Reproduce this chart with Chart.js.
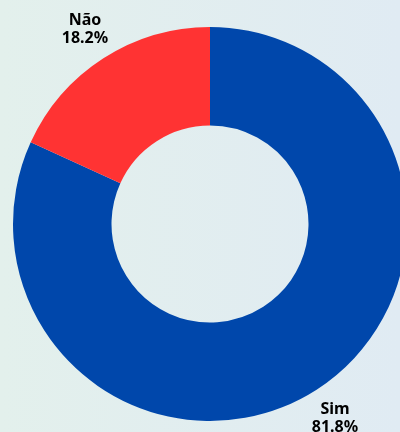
<!DOCTYPE html>
<html>
<head>
<meta charset="utf-8">
<script src="https://cdn.jsdelivr.net/npm/chart.js@4/dist/chart.umd.min.js"></script>
<style>
  html, body {
    margin: 0;
    width: 400px;
    height: 432px;
    overflow: hidden;
    background: linear-gradient(to right, #e3f0ec, #e0ebf3);
  }
  canvas { display: block; }
</style>
</head>
<body>
<canvas id="chart" width="420" height="432"></canvas>
<script>
const LABELS = ['Sim', 'Não'];
const VALUES = [81.8, 18.2];
const COLORS = ['#0047ab', '#ff3333'];

// Draw "label / percent" just outside each slice, on its middle angle
const outerLabels = {
  id: 'outerLabels',
  afterDatasetsDraw(chart) {
    const ctx = chart.ctx;
    const meta = chart.getDatasetMeta(0);
    ctx.save();
    ctx.font = 'bold 16px "Noto Sans", "Open Sans", sans-serif';
    ctx.fillStyle = '#000000';
    ctx.textAlign = 'center';
    ctx.textBaseline = 'middle';
    meta.data.forEach((arc, i) => {
      const mid = (arc.startAngle + arc.endAngle) / 2;
      const r = arc.outerRadius + 34;
      const x = arc.x + Math.cos(mid) * r;
      const y = arc.y + Math.sin(mid) * r;
      ctx.fillText(LABELS[i], x, y - 9);
      ctx.fillText(VALUES[i].toFixed(1) + '%', x, y + 9);
    });
    ctx.restore();
  },
};

new Chart(document.getElementById('chart'), {
  type: 'doughnut',
  data: {
    labels: LABELS,
    datasets: [{
      data: VALUES,
      backgroundColor: COLORS,
      borderWidth: 0,
    }],
  },
  options: {
    responsive: false,
    animation: false,
    cutout: '50%',
    layout: {
      padding: { left: 13, right: 13, top: 27, bottom: 11 },
    },
    plugins: {
      legend: { display: false },
      tooltip: { enabled: false },
    },
  },
  plugins: [outerLabels],
});
</script>
</body>
</html>
